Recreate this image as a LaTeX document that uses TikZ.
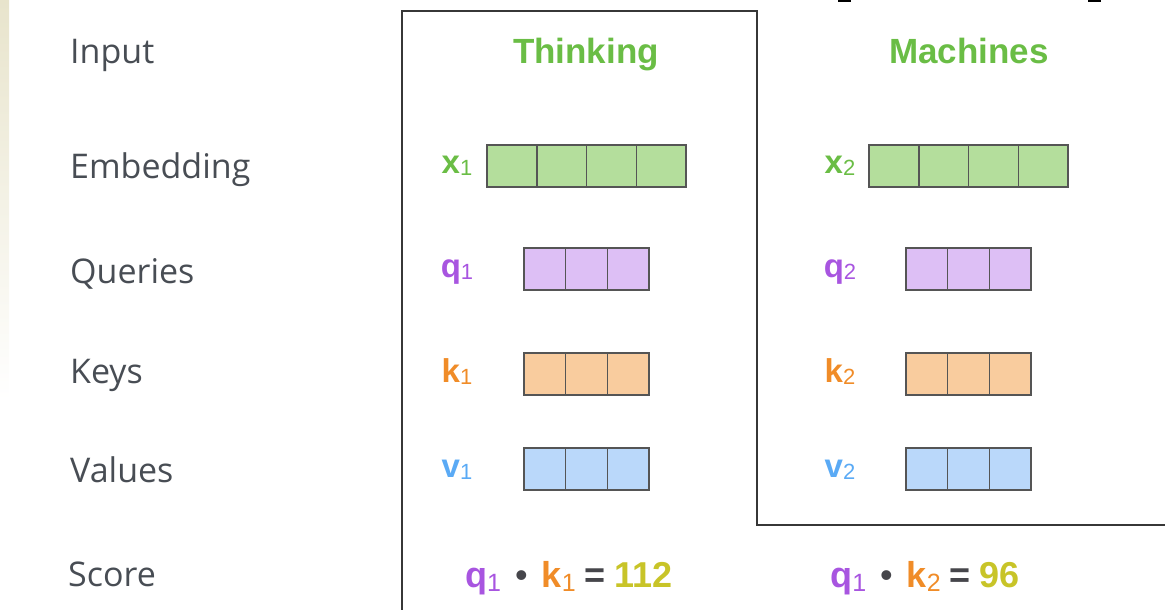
\documentclass[tikz,border=0pt]{standalone}
\usepackage{fontspec}
\setmainfont{Open Sans}
\newfontfamily\headfont{Liberation Sans}
\definecolor{labelgray}{RGB}{72,77,84}
\definecolor{framegray}{RGB}{55,55,55}
\definecolor{cellgray}{RGB}{85,85,85}
\definecolor{wordgreen}{RGB}{106,189,69}
\definecolor{embfill}{RGB}{180,222,156}
\definecolor{qcol}{RGB}{168,85,224}
\definecolor{qfill}{RGB}{221,191,245}
\definecolor{kcol}{RGB}{240,140,40}
\definecolor{kfill}{RGB}{249,204,158}
\definecolor{vcol}{RGB}{90,170,245}
\definecolor{vfill}{RGB}{186,216,250}
\definecolor{scorecol}{RGB}{200,196,40}
\definecolor{dotgray}{RGB}{70,70,75}
\definecolor{stripbeige}{RGB}{232,228,204}
\newcommand{\vecname}[2]{{\bfseries #1}\raisebox{-2pt}{\fontsize{22}{22}\selectfont #2}}
\newcommand{\scorename}[2]{{\bfseries #1}\raisebox{-4pt}{\fontsize{25}{25}\selectfont #2}}
\newcommand{\scoredot}{\hspace*{14pt}\textcolor{dotgray}{\textbullet}\hspace*{14pt}}
\begin{document}
\begin{tikzpicture}[x=1pt,y=-1pt,
  rowlabel/.style={anchor=base west,inner sep=0,text=labelgray,font=\fontsize{34}{34}\selectfont},
  title/.style={anchor=base,inner sep=0,text=wordgreen,font=\headfont\bfseries\fontsize{35}{35}\selectfont},
  veclabel/.style={inner sep=0,font=\headfont\fontsize{33}{33}\selectfont},
  cell/.style={draw=cellgray,line width=1.5pt,inner sep=0,minimum height=42pt},
  score/.style={anchor=base,inner sep=0,font=\headfont\fontsize{36}{36}\selectfont}]
\useasboundingbox (0,0) rectangle (1165,610);
\shade[top color=stripbeige,bottom color=white] (0,0) rectangle (9,400);
\draw[line width=2pt] (838,1) -- (851,1);
\draw[line width=2pt] (1088,1) -- (1101,1);
% row names
\foreach \lbl/\yy in {Input/64,Embedding/178,Queries/283,Keys/383,Values/482}
  \node[rowlabel] (row-\lbl) at (70,\yy) {\lbl};
\node[rowlabel] (row-Score) at (68,586) {Score};
% frame round the words
\draw[framegray,line width=2pt] (402,610) -- (402,11) -- (757,11) -- (757,525) -- (1165,525);
\node[title] (w1) at (586,64) {Thinking};
\node[title] (w2) at (969,64) {Machines};
% vectors of both words
\foreach \w/\ex/\eq in {1/487/524,2/869/906}{
  \foreach \i in {0,...,3}
    \node[cell,fill=embfill,minimum width=49.75pt] (x\w-\i) at (\ex+24.875+\i*49.75,166) {};
  \foreach \i in {0,...,2}{
    \node[cell,fill=qfill,minimum width=41.67pt] (q\w-\i) at (\eq+20.83+\i*41.67,269) {};
    \node[cell,fill=kfill,minimum width=41.67pt] (k\w-\i) at (\eq+20.83+\i*41.67,374) {};
    \node[cell,fill=vfill,minimum width=41.67pt] (v\w-\i) at (\eq+20.83+\i*41.67,469) {};
  }
}
\node[veclabel,text=wordgreen] (x1) at (457,166) {\vecname{x}{1}};
\node[veclabel,text=qcol] (q1) at (457,272) {\vecname{q}{1}};
\node[veclabel,text=kcol] (k1) at (457,372) {\vecname{k}{1}};
\node[veclabel,text=vcol] (v1) at (457,470) {\vecname{v}{1}};
\node[veclabel,text=wordgreen] (x2) at (840,166) {\vecname{x}{2}};
\node[veclabel,text=qcol] (q2) at (840,272) {\vecname{q}{2}};
\node[veclabel,text=kcol] (k2) at (840,372) {\vecname{k}{2}};
\node[veclabel,text=vcol] (v2) at (840,470) {\vecname{v}{2}};
% scores
\node[score] (s1) at (569,587) {\textcolor{qcol}{\scorename{q}{1}}\scoredot\textcolor{kcol}{\scorename{k}{1}}\hspace*{9pt}\textcolor{dotgray}{\bfseries =}\hspace*{9pt}\textcolor{scorecol}{\bfseries 112}};
\node[score] (s2) at (925,587) {\textcolor{qcol}{\scorename{q}{1}}\scoredot\textcolor{kcol}{\scorename{k}{2}}\hspace*{9pt}\textcolor{dotgray}{\bfseries =}\hspace*{9pt}\textcolor{scorecol}{\bfseries 96}};
\end{tikzpicture}
\end{document}
